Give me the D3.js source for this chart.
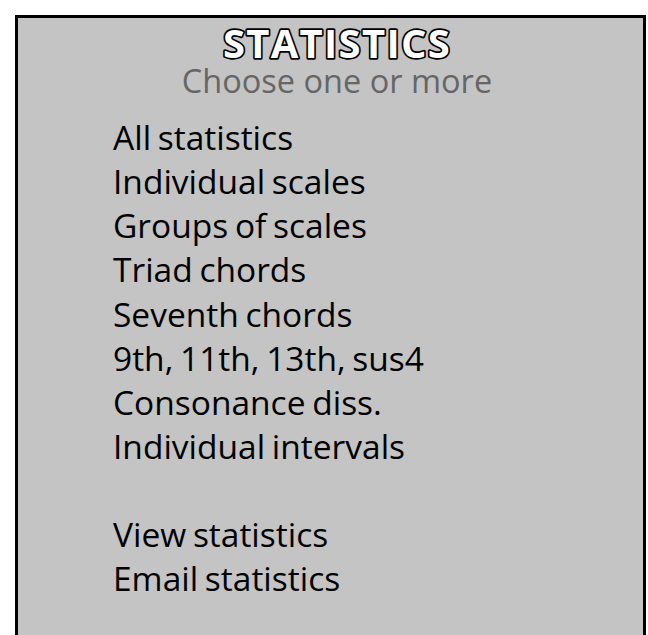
<!DOCTYPE html>
<html>
<head>
<meta charset="utf-8">
<script src="https://cdn.jsdelivr.net/npm/d3@7"></script>
<style>
  html, body { margin: 0; padding: 0; background: #ffffff; }
  svg { display: block; }
</style>
</head>
<body>
<svg id="chart" width="648" height="635"></svg>
<script>
// ---- content ----
const titleText = "STATISTICS";
const subtitleText = "Choose one or more";
const statOptions = [
  "All statistics",
  "Individual scales",
  "Groups of scales",
  "Triad chords",
  "Seventh chords",
  "9th, 11th, 13th, sus4",
  "Consonance diss.",
  "Individual intervals"
];
const statActions = [
  "View statistics",
  "Email statistics"
];

// ---- layout ----
const W = 648, H = 635;
const svg = d3.select("#chart");

// panel
svg.append("rect")
  .attr("x", 16.5).attr("y", 16.5)
  .attr("width", 628).attr("height", H)
  .attr("fill", "#c4c4c4")
  .attr("stroke", "#000").attr("stroke-width", 3);

const fontFam = "'Open Sans', 'Noto Sans', sans-serif";
const cx = 337;

// title
svg.append("text")
  .attr("x", cx).attr("y", 58)
  .attr("text-anchor", "middle")
  .attr("font-family", fontFam)
  .attr("font-weight", 700)
  .attr("font-size", 40)
  .attr("letter-spacing", 1.3)
  .attr("fill", "#ffffff")
  .attr("stroke", "#000")
  .attr("stroke-width", 3.4)
  .attr("stroke-linejoin", "round")
  .style("paint-order", "stroke")
  .text(titleText);

// subtitle
svg.append("text")
  .attr("x", cx).attr("y", 93)
  .attr("text-anchor", "middle")
  .attr("font-family", fontFam)
  .attr("font-size", 32.5)
  .attr("fill", "#666666")
  .text(subtitleText);

const xLeft = 113;

// option rows
const yOpt = d3.scalePoint()
  .domain(statOptions)
  .range([150, 459]);

// action rows
const yAct = d3.scalePoint()
  .domain(statActions)
  .range([547, 591]);

const g = svg.append("g").attr("transform", `translate(${xLeft},0)`);

function drawRows(cls, data, yScale) {
  g.selectAll("text." + cls)
    .data(data)
    .join("text")
    .attr("class", cls)
    .attr("x", 0)
    .attr("y", d => yScale(d))
    .attr("font-family", fontFam)
    .attr("font-size", 33.5)
    .attr("word-spacing", -2)
    .attr("fill", "#000")
    .text(d => d);
}
drawRows("opt", statOptions, yOpt);
drawRows("act", statActions, yAct);
</script>
</body>
</html>
